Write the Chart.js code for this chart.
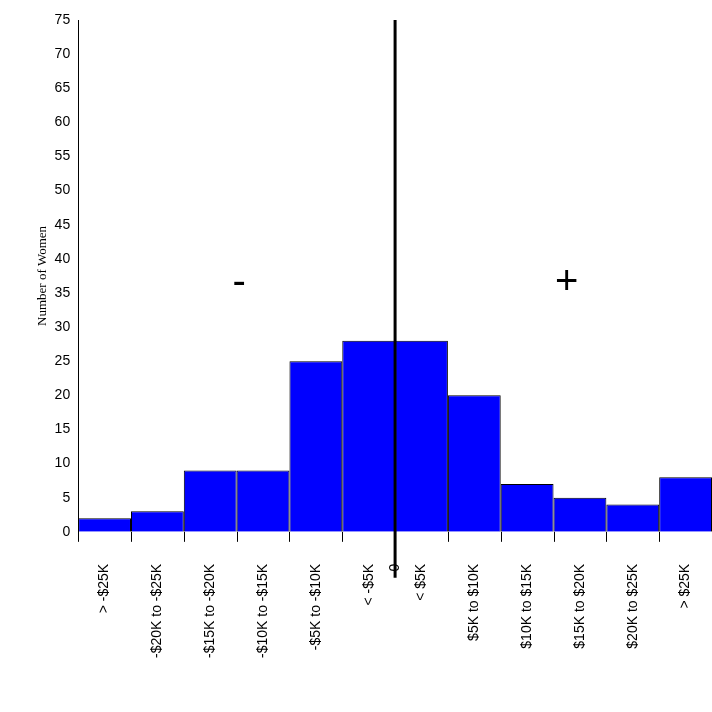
<!DOCTYPE html>
<html>
<head>
<meta charset="utf-8">
<script src="https://cdn.jsdelivr.net/npm/chart.js@4"></script>
<style>
  html, body { margin: 0; padding: 0; background: #fff; }
  #wrap { width: 712px; height: 712px; }
</style>
</head>
<body>
<div id="wrap"><canvas id="c" width="712" height="712"></canvas></div>
<script>
// bins of income difference, left to right
const binLabels = ["> -$25K", "-$20K to -$25K", "-$15K to -$20K", "-$10K to -$15K", "-$5K to -$10K", "< -$5K",
  "< $5K", "$5K to $10K", "$10K to $15K", "$15K to $20K", "$20K to $25K", "> $25K"];
const counts = [2, 3, 9, 9, 25, 28, 28, 20, 7, 5, 4, 8];
const zeroLabel = "0";
const yTicks = [0, 5, 10, 15, 20, 25, 30, 35, 40, 45, 50, 55, 60, 65, 70, 75];

// tick values: bar centres plus the zero boundary
const tickMap = {};
binLabels.forEach((l, i) => { tickMap[i + 0.5] = l; });
tickMap[6] = zeroLabel;

const extras = {
  id: "extras",
  afterDraw(chart) {
    const ctx = chart.ctx;
    const x = chart.scales.x, y = chart.scales.y;
    const bottom = chart.chartArea.bottom;
    ctx.save();
    ctx.strokeStyle = "#000";
    ctx.lineWidth = 1;
    // tick marks at bin boundaries
    for (let i = 0; i <= 12; i++) {
      const px = Math.round(x.getPixelForValue(i)) + 0.5;
      ctx.beginPath();
      ctx.moveTo(px, bottom);
      ctx.lineTo(px, bottom + 10);
      ctx.stroke();
    }
    // zero line
    const zx = x.getPixelForValue(6);
    ctx.lineWidth = 3;
    ctx.beginPath();
    ctx.moveTo(zx, chart.chartArea.top);
    ctx.lineTo(zx, bottom + 46);
    ctx.stroke();
    // signs
    ctx.fillStyle = "#000";
    ctx.font = "40px 'Liberation Sans'";
    ctx.textAlign = "center";
    ctx.textBaseline = "middle";
    ctx.fillText("-", x.getPixelForValue(3.05), y.getPixelForValue(36.5));
    ctx.fillText("+", x.getPixelForValue(9.25), y.getPixelForValue(36.5));
    ctx.restore();
  }
};

new Chart(document.getElementById("c"), {
  type: "bar",
  data: {
    datasets: [{
      data: counts.map((v, i) => ({ x: i + 0.5, y: v })),
      backgroundColor: "#0000ff",
      borderColor: "#000",
      borderWidth: 1,
      barPercentage: 2,
      categoryPercentage: 1
    }]
  },
  options: {
    responsive: false,
    animation: false,
    layout: { padding: { top: 20, right: 0, left: 33, bottom: 22 } },
    plugins: { legend: { display: false }, tooltip: { enabled: false } },
    scales: {
      x: {
        type: "linear",
        min: 0,
        max: 12,
        offset: false,
        afterBuildTicks(scale) {
          scale.ticks = Object.keys(tickMap).map(Number).sort((a, b) => a - b).map(v => ({ value: v }));
        },
        afterFit(scale) { scale.paddingRight = 0; scale.paddingLeft = 0; },
        grid: { display: false, drawTicks: false },
        border: { display: false },
        ticks: {
          autoSkip: false,
          maxRotation: 90,
          minRotation: 90,
          padding: 32,
          color: "#000",
          font: { family: "Liberation Sans", size: 14 },
          callback: v => tickMap[v]
        }
      },
      y: {
        min: 0,
        max: 75,
        afterBuildTicks(scale) { scale.ticks = yTicks.map(v => ({ value: v })); },
        grid: { display: false, drawTicks: true, tickLength: 6, tickColor: "#000" },
        border: { display: true, color: "#000", width: 1 },
        ticks: { color: "#000", padding: 2, font: { family: "Liberation Sans", size: 14 } },
        title: { display: true, text: "Number of Women", color: "#000", padding: 2,
          font: { family: "Liberation Serif", size: 13 } }
      }
    }
  },
  plugins: [extras]
});
</script>
</body>
</html>
